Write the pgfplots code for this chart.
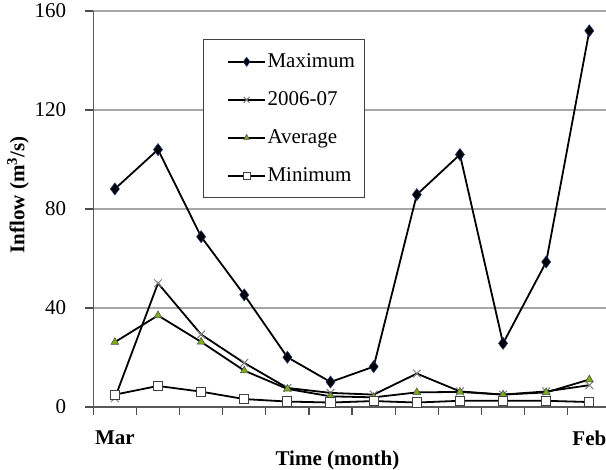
\documentclass[border=0pt]{standalone}
\usepackage{pgfplots}
\pgfplotsset{compat=1.18}
\usepackage{fontspec}
\setmainfont{Liberation Serif}
\definecolor{maxedge}{RGB}{30,50,110}
\definecolor{avgfill}{RGB}{125,170,25}
\begin{document}
\fontsize{21}{25}\selectfont
\begin{tikzpicture}
\begin{axis}[
  at={(93.3pt,63pt)}, anchor=south west,
  scale only axis, width=517.6pt, height=396pt,
  xmin=-0.5, xmax=11.5, ymin=0, ymax=160,
  axis lines*=left,
  axis line style={draw=black!65, line width=1.2pt},
  ytick={0,40,...,160},
  yticklabel style={xshift=-12pt},
  xtick={-0.5,0.5,...,10.5}, xticklabels={},
  extra x ticks={0,11}, extra x tick labels={\textbf{Mar},\textbf{Feb}},
  extra x tick style={major tick length=0pt, tick label style={yshift=-17pt}},
  tick align=outside, major tick length=8pt,
  tick style={draw=black!70, line width=1.2pt},
  ymajorgrids, grid style={draw=black!35, line width=1.2pt},
  /pgf/number format/assume math mode=true,
  tick label style={font=\fontsize{21}{25}\selectfont},
  label style={font=\bfseries\fontsize{21}{25}\selectfont},
  xlabel={Time (month)}, ylabel={Inflow (m\textsuperscript{3}/s)},
  xlabel style={at={(axis description cs:0.4718,0)}, anchor=center, yshift=-53pt},
  ylabel style={at={(axis description cs:-0.1455,0.5354)}, anchor=center},
  legend style={at={(axis description cs:0.2114,0.9285)}, anchor=north west,
    draw=black!75, line width=1pt, fill=white, inner xsep=8pt, inner ysep=10.5pt,
    row sep=15pt, font=\fontsize{21}{25}\selectfont,
    nodes={inner sep=1.5pt, text height=16pt, text depth=4pt}},
  legend cell align=left,
  legend image code/.code={\path (-16pt,0pt); \draw[mark repeat=2,mark phase=2, every mark/.append style={scale=0.75}] plot coordinates {(0pt,0pt) (18.5pt,0pt) (37pt,0pt)};},
]
\addplot[black, line width=1.8pt, mark=diamond*, mark size=6pt,
  mark options={solid, fill=black, draw=maxedge, line width=0.6pt}]
  coordinates {(0,88.1) (1,104.0) (2,68.8) (3,45.3) (4,20.1) (5,10.1) (6,16.3) (7,85.8) (8,102.0) (9,25.7) (10,58.6) (11,152.0)};
\addlegendentry{Maximum}
\addplot[black, line width=1.8pt, mark=x, mark size=5.5pt,
  mark options={solid, draw=black!50, line width=1pt}]
  coordinates {(0,3.6) (1,50.0) (2,29.3) (3,17.8) (4,7.7) (5,5.7) (6,5.0) (7,13.5) (8,6.3) (9,5.0) (10,6.3) (11,8.8)};
\addlegendentry{2006-07}
\addplot[black, line width=1.8pt, mark=triangle*, mark size=4.5pt,
  mark options={solid, fill=avgfill, draw=black!70, line width=0.5pt}]
  coordinates {(0,26.2) (1,37.0) (2,26.3) (3,14.7) (4,7.3) (5,4.3) (6,3.9) (7,5.9) (8,6.1) (9,5.0) (10,5.9) (11,11.1)};
\addlegendentry{Average}
\addplot[black, line width=1.8pt, mark=square*, mark size=4.6pt,
  mark options={solid, fill=white, draw=black!75, line width=1pt}]
  coordinates {(0,5.0) (1,8.5) (2,6.2) (3,3.2) (4,2.2) (5,1.8) (6,2.4) (7,1.8) (8,2.5) (9,2.5) (10,2.5) (11,2.0)};
\addlegendentry{Minimum}
\end{axis}
\pgfresetboundingbox
\path[use as bounding box] (0,0) rectangle (606pt,470pt);
\end{tikzpicture}
\end{document}
